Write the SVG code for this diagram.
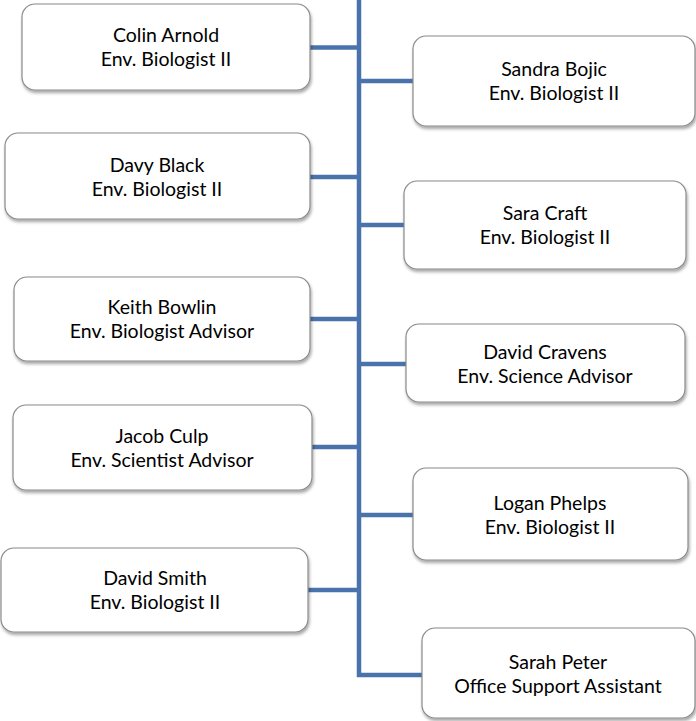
<svg xmlns="http://www.w3.org/2000/svg" width="696" height="721" viewBox="0 0 696 721">
<defs>
<filter id="sh" x="-10%" y="-10%" width="120%" height="130%">
<feDropShadow dx="1" dy="2.5" stdDeviation="1.6" flood-color="#000" flood-opacity="0.35"/>
</filter>
<style>
.box{fill:#fff;stroke:#8a8a8a;stroke-width:1.2;filter:url(#sh)}
.t{font-family:Lato,"Liberation Sans",sans-serif;font-size:19.5px;fill:#000;text-anchor:middle}
.c{stroke:#4A73AB;stroke-width:4.5;fill:none}
</style>
</defs>
<rect width="696" height="721" fill="#fff"/>
<g id="connectors">
<path class="c" d="M359 0 V675 H422"/>
<path class="c" d="M310 47.5 H359"/>
<path class="c" d="M359 81 H413"/>
<path class="c" d="M310 177 H359"/>
<path class="c" d="M359 225 H404"/>
<path class="c" d="M310 319 H359"/>
<path class="c" d="M359 364 H406"/>
<path class="c" d="M312 447 H359"/>
<path class="c" d="M359 515 H413"/>
<path class="c" d="M308 590 H359"/>
</g>
<g id="colin"><rect class="box" x="22" y="4" width="288" height="86" rx="13"/><text class="t" x="166" y="42">Colin Arnold</text><text class="t" x="166" y="66">Env. Biologist II</text></g>
<g id="sandra"><rect class="box" x="413" y="36" width="282" height="90" rx="13"/><text class="t" x="554" y="76">Sandra Bojic</text><text class="t" x="554" y="100">Env. Biologist II</text></g>
<g id="davy"><rect class="box" x="5" y="133" width="305" height="86" rx="13"/><text class="t" x="157" y="172">Davy Black</text><text class="t" x="157" y="196">Env. Biologist II</text></g>
<g id="sara"><rect class="box" x="404" y="181" width="282" height="88" rx="13"/><text class="t" x="545" y="220">Sara Craft</text><text class="t" x="545" y="244">Env. Biologist II</text></g>
<g id="keith"><rect class="box" x="14" y="277" width="296" height="84" rx="13"/><text class="t" x="162" y="314">Keith Bowlin</text><text class="t" x="162" y="338">Env. Biologist Advisor</text></g>
<g id="cravens"><rect class="box" x="406" y="324" width="279" height="78" rx="13"/><text class="t" x="545" y="359">David Cravens</text><text class="t" x="545" y="383">Env. Science Advisor</text></g>
<g id="jacob"><rect class="box" x="13" y="405" width="299" height="85" rx="13"/><text class="t" x="162" y="443">Jacob Culp</text><text class="t" x="162" y="467">Env. Scientist Advisor</text></g>
<g id="logan"><rect class="box" x="413" y="468" width="275" height="92" rx="13"/><text class="t" x="550" y="510">Logan Phelps</text><text class="t" x="550" y="534">Env. Biologist II</text></g>
<g id="smith"><rect class="box" x="1" y="548" width="307" height="84" rx="13"/><text class="t" x="155" y="585">David Smith</text><text class="t" x="155" y="609">Env. Biologist II</text></g>
<g id="sarah"><rect class="box" x="422" y="628" width="273" height="90" rx="13"/><text class="t" x="558" y="669">Sarah Peter</text><text class="t" x="558" y="693">Office Support Assistant</text></g>
</svg>
